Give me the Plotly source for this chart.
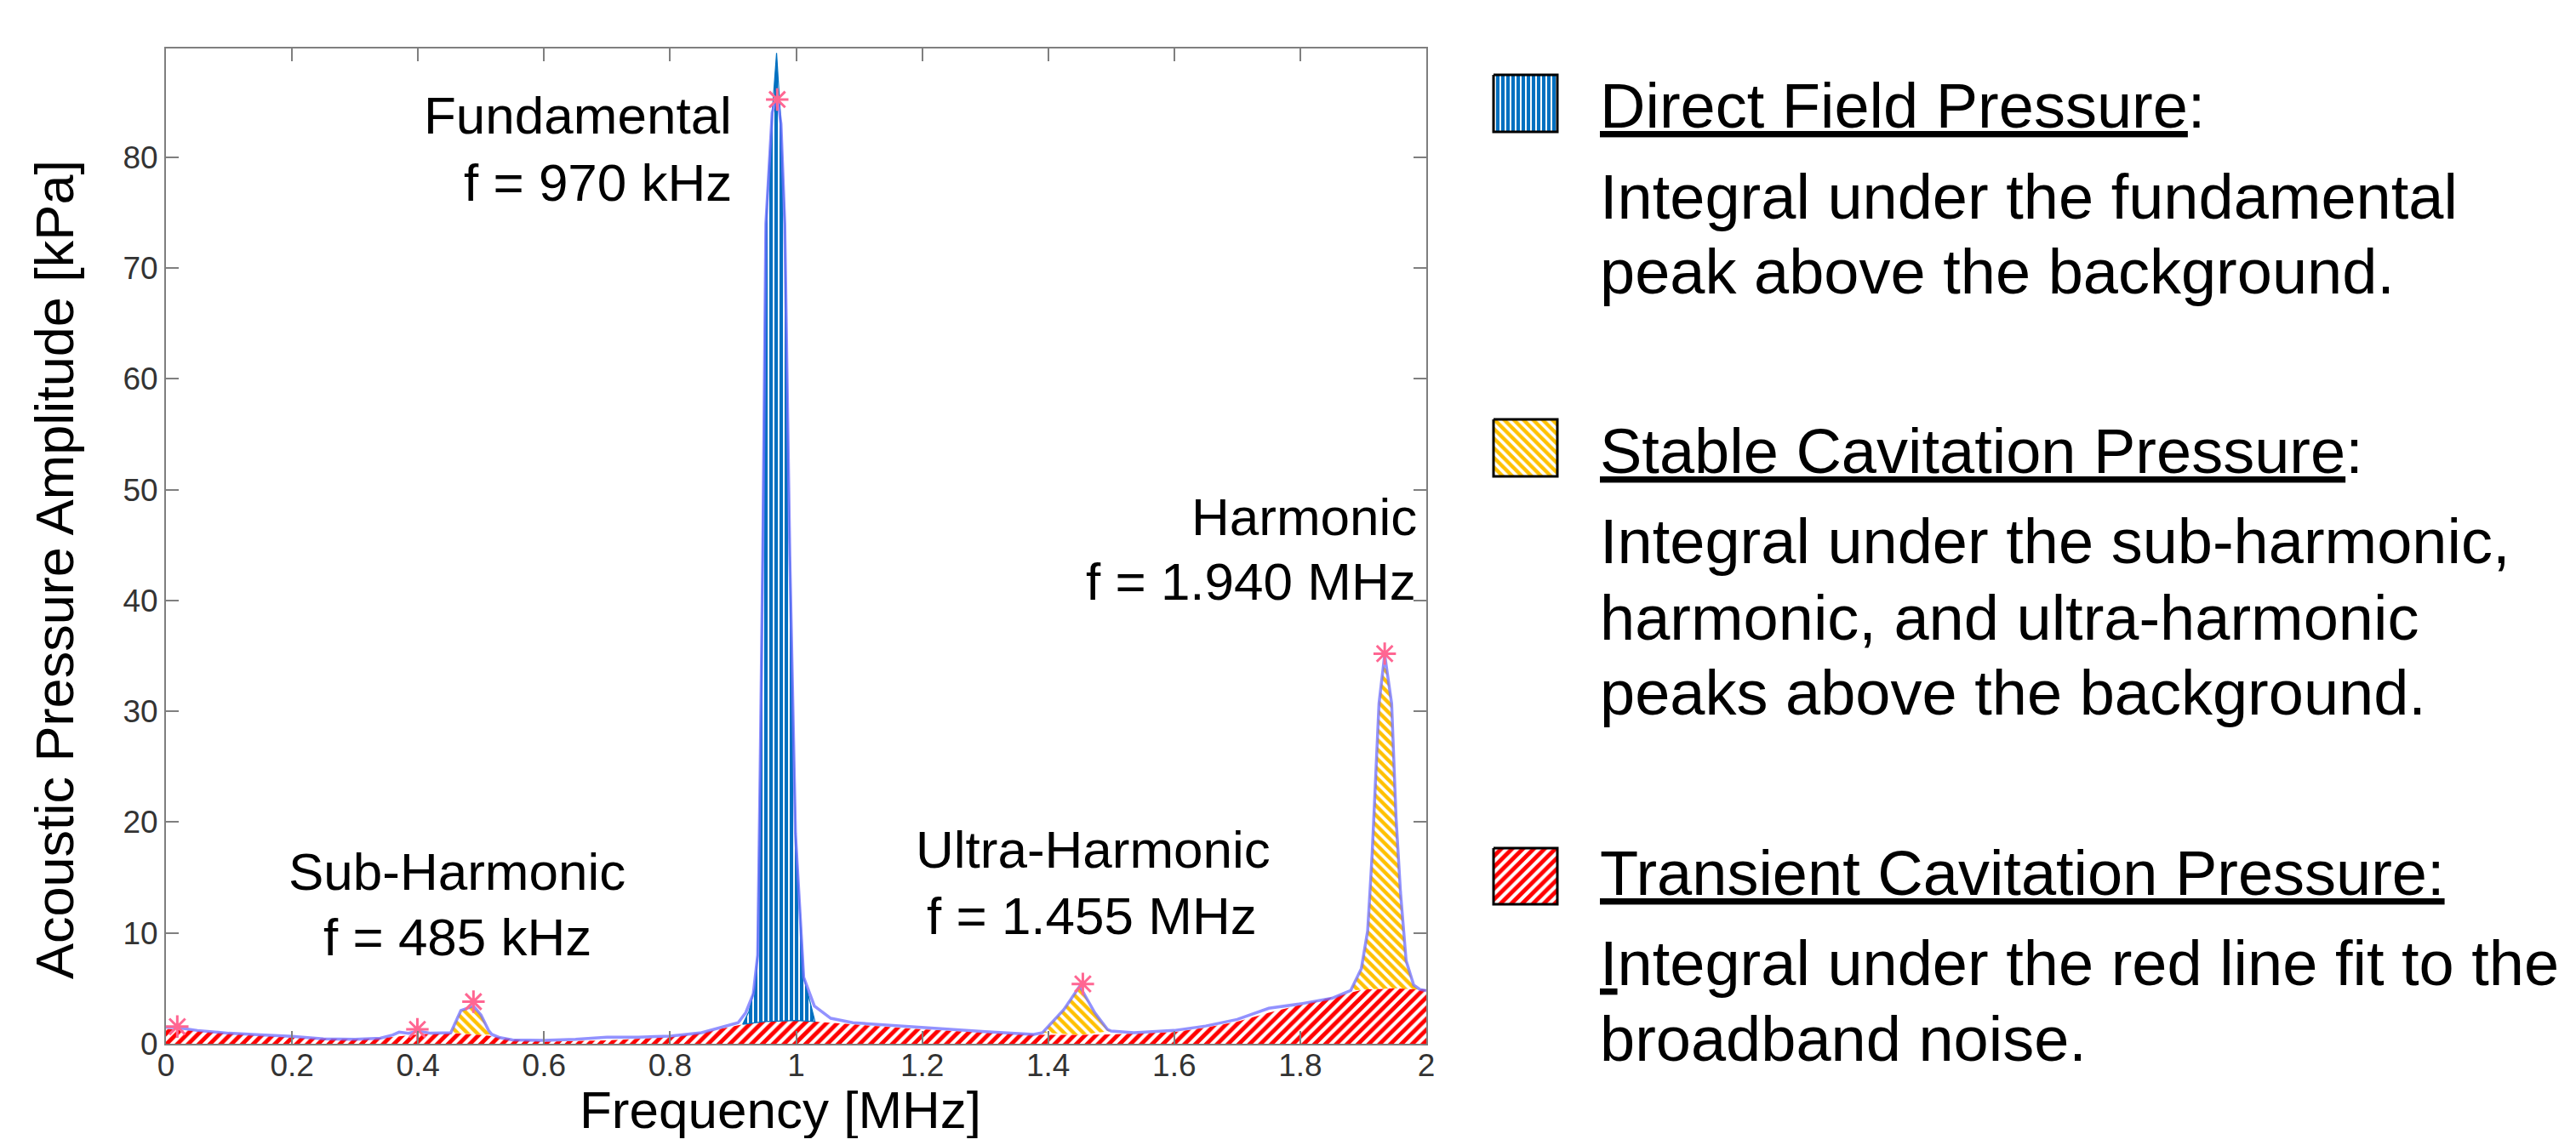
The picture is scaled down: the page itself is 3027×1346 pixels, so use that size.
import plotly.graph_objects as go

W, H = 3027, 1346          # screen size of the reference
OFF = 8                    # default body margin of the page
FW, FH = W - 2 * OFF, H - 2 * OFF

# ---------------- data ----------------
freq = [0.000, 0.018, 0.05, 0.10, 0.15, 0.20, 0.25, 0.30, 0.34, 0.36, 0.37, 0.385, 0.40, 0.42,
        0.452, 0.468, 0.488, 0.50, 0.512, 0.517, 0.53, 0.55, 0.60, 0.65, 0.70, 0.75, 0.80, 0.85,
        0.908, 0.92, 0.932, 0.939, 0.943, 0.947, 0.952, 0.962, 0.970, 0.976, 0.982, 0.990, 0.999,
        1.012, 1.029, 1.055, 1.09, 1.20, 1.30, 1.377, 1.391, 1.425, 1.450, 1.474, 1.494, 1.50,
        1.536, 1.60, 1.65, 1.70, 1.75, 1.80, 1.85, 1.88, 1.897, 1.907, 1.914, 1.925, 1.934,
        1.945, 1.952, 1.959, 1.968, 1.98, 1.99, 2.00]
amplitude = [1.5, 1.45, 1.2, 0.95, 0.8, 0.68, 0.45, 0.4, 0.5, 0.8, 1.05, 0.95, 1.15, 0.95,
             1.0, 3.0, 3.4, 2.6, 1.2, 0.85, 0.55, 0.35, 0.3, 0.4, 0.6, 0.6, 0.7, 1.0,
             1.9, 2.8, 4.5, 8.0, 25.0, 44.0, 74.0, 84.0, 85.5, 83.0, 74.0, 44.0, 19.0,
             6.0, 3.4, 2.3, 1.9, 1.45, 1.1, 0.85, 1.0, 3.1, 5.2, 2.8, 1.3, 1.15,
             1.0, 1.2, 1.6, 2.2, 3.2, 3.6, 4.1, 4.8, 6.8, 10.2, 17.0, 30.7, 35.1,
             30.7, 20.4, 13.7, 7.5, 5.3, 4.9, 4.8]

background_freq = [0.0, 0.05, 0.10, 0.20, 0.30, 0.35, 0.40, 0.452, 0.50, 0.517, 0.55, 0.60, 0.70,
                   0.80, 0.85, 0.90, 0.915, 0.95, 1.00, 1.03, 1.10, 1.20, 1.30, 1.391, 1.45, 1.50,
                   1.60, 1.65, 1.70, 1.75, 1.80, 1.85, 1.88, 1.90, 1.95, 1.99, 2.00]
background_amp = [1.35, 1.15, 0.95, 0.55, 0.4, 0.55, 0.85, 0.95, 0.8, 0.7, 0.4, 0.2, 0.3,
                  0.6, 1.0, 1.55, 1.75, 2.0, 2.1, 2.0, 1.7, 1.3, 1.0, 0.8, 0.8, 0.85,
                  1.05, 1.45, 2.0, 2.8, 3.5, 4.2, 4.6, 4.9, 5.0, 4.95, 4.9]

direct_freq = [0.915, 0.925, 0.934, 0.939, 0.943, 0.947, 0.952, 0.962, 0.969, 0.976, 0.982,
               0.990, 0.999, 1.012, 1.022, 1.03]
direct_amp = [1.75, 2.9, 5.0, 8.0, 25.0, 44.0, 74.0, 84.0, 89.4, 83.0, 74.0,
              44.0, 19.0, 6.0, 3.8, 2.0]

stable_windows = [(0.452, 0.517), (1.391, 1.50), (1.88, 1.99)]

peak_freq = [0.018, 0.399, 0.488, 0.970, 1.455, 1.934]
peak_amp = [1.55, 1.3, 3.8, 85.2, 5.4, 35.2]

x_tick_vals = [0, 0.2, 0.4, 0.6, 0.8, 1.0, 1.2, 1.4, 1.6, 1.8, 2.0]
x_tick_text = ["0", "0.2", "0.4", "0.6", "0.8", "1", "1.2", "1.4", "1.6", "1.8", "2"]
y_tick_vals = [0, 10, 20, 30, 40, 50, 60, 70, 80]
y_tick_text = ["0", "10", "20", "30", "40", "50", "60", "70", "80"]

# ---------------- styles ----------------
FONT = "Liberation Sans, Arial, sans-serif"
BLUE = "#0070C0"
RED = "#FF0000"
GOLD = "#FFC000"
AXC = "#7f7f7f"

red_pat = dict(shape="/", fgcolor=RED, bgcolor="white", size=9, solidity=0.55, fillmode="replace")
gold_pat = dict(shape="\\", fgcolor=GOLD, bgcolor="white", size=8, solidity=0.55, fillmode="replace")
blue_pat = dict(shape="|", fgcolor=BLUE, bgcolor="white", size=6, solidity=0.68, fillmode="replace")


def band(top_f, top_v, lo, hi):
    tf = [f for f in top_f if lo <= f <= hi]
    tv = [v for f, v in zip(top_f, top_v) if lo <= f <= hi]
    bf = [f for f in background_freq if lo < f < hi]
    bv = [v for f, v in zip(background_freq, background_amp) if lo < f < hi]
    return tf + bf[::-1] + [tf[0]], tv + bv[::-1] + [tv[0]]


def X(px):   # screen px -> paper x
    return (px - OFF) / FW


def Y(py):   # screen px -> paper y
    return 1 - (py - OFF) / FH


fig = go.Figure()

# transient cavitation (broadband background)
fig.add_trace(go.Scatter(x=background_freq, y=background_amp, mode="lines",
                         line=dict(width=0, color=RED), fill="tozeroy", fillcolor=RED,
                         fillpattern=red_pat, hoverinfo="skip", showlegend=False))

# stable cavitation peaks
for lo, hi in stable_windows:
    bx, by = band(freq, amplitude, lo, hi)
    fig.add_trace(go.Scatter(x=bx, y=by, mode="lines", line=dict(width=0, color=GOLD),
                             fill="toself", fillcolor=GOLD, fillpattern=gold_pat,
                             hoverinfo="skip", showlegend=False))

# direct field peak
dx, dy = band(direct_freq, direct_amp, direct_freq[0], direct_freq[-1])
fig.add_trace(go.Scatter(x=dx, y=dy, mode="lines", line=dict(width=1.2, color=BLUE),
                         fill="toself", fillcolor=BLUE, fillpattern=blue_pat,
                         hoverinfo="skip", showlegend=False))

# spectrum
fig.add_trace(go.Scatter(x=freq, y=amplitude, mode="lines",
                         line=dict(width=3.5, color="rgba(110,110,255,0.75)"),
                         hoverinfo="skip", showlegend=False))

# detected peaks
fig.add_trace(go.Scatter(x=peak_freq, y=peak_amp, mode="markers",
                         marker=dict(symbol="asterisk-open", size=22,
                                     line=dict(width=3, color="#FF1010")),
                         hoverinfo="skip", showlegend=False, cliponaxis=False))

# ---------------- legend swatches (on a helper axis in screen-pixel units) ----------------
swatches = [(88, 155, blue_pat, BLUE), (493, 560, gold_pat, GOLD), (997, 1063, red_pat, RED)]
for top, bot, pat, col in swatches:
    fig.add_trace(go.Scatter(x=[1755, 1830, 1830, 1755, 1755], y=[top, top, bot, bot, top],
                             mode="lines", line=dict(width=3, color="black"),
                             fill="toself", fillcolor=col, fillpattern=pat,
                             xaxis="x2", yaxis="y2", hoverinfo="skip", showlegend=False))

# ---------------- annotations ----------------
annotations = []


def ann(text, x, y, xanchor, size, color="black", angle=0):
    annotations.append(dict(text=text, x=X(x), y=Y(y), xref="paper", yref="paper",
                            xanchor=xanchor, yanchor="middle", showarrow=False,
                            textangle=angle, font=dict(family=FONT, size=size, color=color)))


AS = 62
ann("Fundamental", 862, 136, "right", AS)
ann("f = 970 kHz", 862, 214, "right", AS)
ann("Harmonic", 1667, 607, "right", AS)
ann("f = 1.940 MHz", 1666, 683, "right", AS)
ann("Sub-Harmonic", 537, 1024, "center", AS)
ann("f = 485 kHz", 537, 1101, "center", AS)
ann("Ultra-Harmonic", 1284, 998, "center", AS)
ann("f = 1.455 MHz", 1283, 1076, "center", AS)

ann("Frequency [MHz]", 917, 1304, "center", 62)
ann("Acoustic Pressure Amplitude [kPa]", 64, 670, "center", 63, angle=-90)

LS = 74
LX = 1878
ann("<u>Direct Field Pressure</u>:", LX, 125, "left", LS)
ann("Integral under the fundamental", LX, 231, "left", LS)
ann("peak above the background.", LX, 319, "left", LS)
ann("<u>Stable Cavitation Pressure</u>:", LX, 530, "left", LS)
ann("Integral under the sub-harmonic,", LX, 636, "left", LS)
ann("harmonic, and ultra-harmonic", LX, 726, "left", LS)
ann("peaks above the background.", LX, 814, "left", LS)
ann("<u>Transient Cavitation Pressure:</u>", LX, 1026, "left", LS)
ann("<u>I</u>ntegral under the red line fit to the", LX, 1132, "left", LS)
ann("broadband noise.", LX, 1221, "left", LS)

axis_common = dict(ticks="inside", ticklen=15, tickwidth=2, tickcolor=AXC,
                   showline=True, linecolor=AXC, linewidth=2, mirror="ticks",
                   showgrid=False, zeroline=False, automargin=False,
                   tickfont=dict(family=FONT, size=37, color="#333333"))

fig.update_layout(
    width=FW, height=FH,
    margin=dict(l=0, r=0, t=0, b=0, pad=0, autoexpand=False),
    paper_bgcolor="white", plot_bgcolor="white",
    showlegend=False,
    xaxis=dict(domain=[X(195), X(1676)], range=[0, 2], tickmode="array",
               tickvals=x_tick_vals, ticktext=x_tick_text, anchor="y",
               ticklabelstandoff=-8, **axis_common),
    yaxis=dict(domain=[Y(1227), Y(57)], range=[0, 89.8], tickmode="array",
               tickvals=y_tick_vals, ticktext=y_tick_text, anchor="x", **axis_common),
    xaxis2=dict(domain=[X(1745), X(1840)], range=[1745, 1840], visible=False,
                anchor="y2", showgrid=False, zeroline=False, automargin=False),
    yaxis2=dict(domain=[Y(1075), Y(75)], range=[1075, 75], visible=False,
                anchor="x2", showgrid=False, zeroline=False, automargin=False),
    annotations=annotations,
)

fig.write_html("out.html")
